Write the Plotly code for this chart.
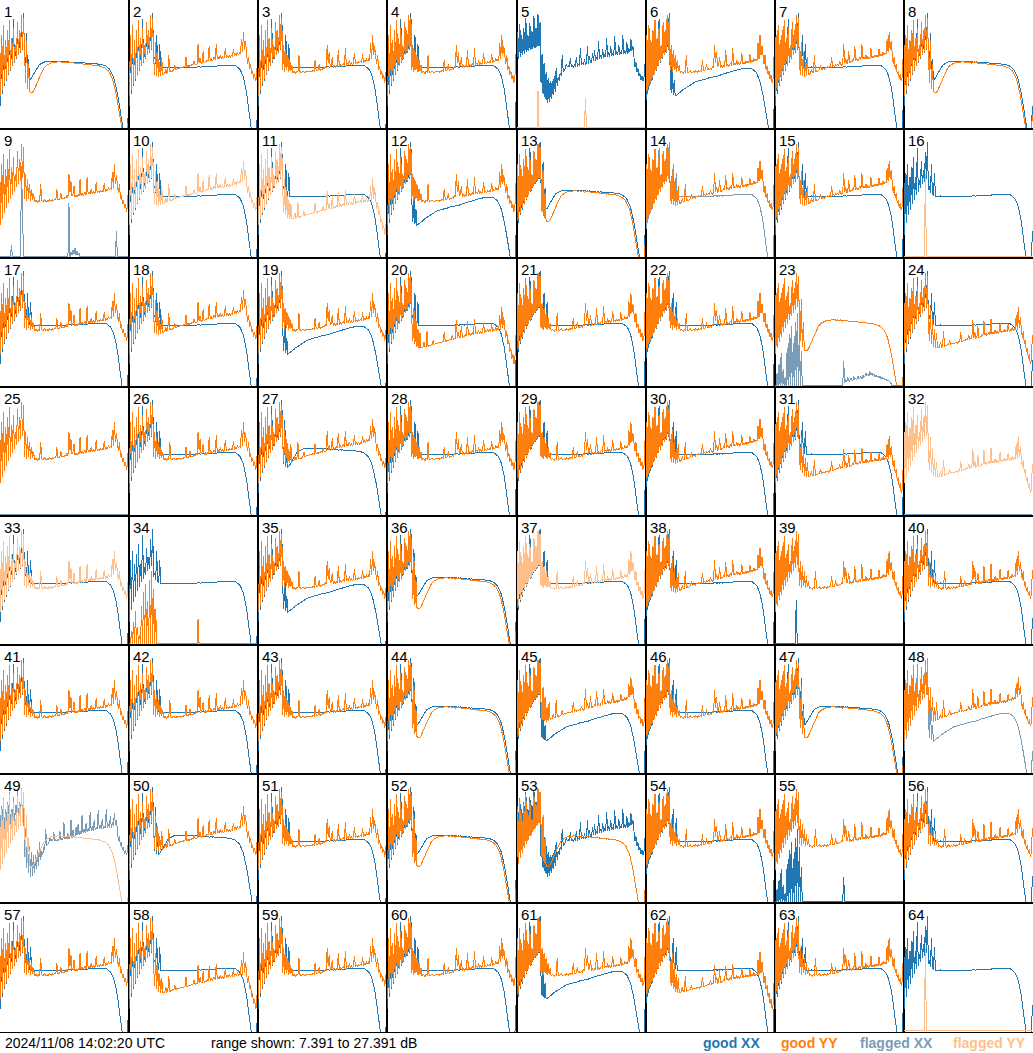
import plotly.graph_objects as go
from plotly.subplots import make_subplots

# ---------------- data ----------------
CHANNELS = list(range(128))
Y_MIN, Y_MAX = 7.391, 27.391
TIMESTAMP = "2024/11/08 14:02:20 UTC"
RANGE_TEXT = "range shown: 7.391 to 27.391 dB"
LEGEND_LABELS = ["good XX", "good YY", "flagged XX", "flagged YY"]
COLORS = {"gx": "#1f77b4", "gy": "#ff7f0e", "fx": "#7b9cb7", "fy": "#ffbf8a"}
FLOOR = 7.55

# spiky low-frequency segments (channels 0-23)
SPK_O = [12.5, 22.0, 13.4, 23.5, 14.4, 21.2, 15.1, 22.7, 15.9, 24.3, 16.5, 21.5,
         17.2, 23.1, 17.8, 20.4, 18.4, 24.0, 18.9, 22.7, 19.3, 25.1, 19.8, 24.6]
SPK_B = [11.0, 20.5, 12.8, 22.0, 14.0, 20.0, 14.9, 21.5, 15.8, 23.0, 16.4, 20.0,
         17.1, 24.4, 17.7, 19.5, 18.3, 22.5, 18.8, 21.0, 19.2, 23.8, 19.6, 25.3]

# typical YY
O1 = SPK_O + [16.6, 20.4, 16.3, 19.6, 16.5, 18.9, 16.2, 18.1, 16.4, 17.3] + \
    [16.1, 16.3, 16.2, 16.0, 16.3, 16.2, 18.9, 16.3, 16.1, 16.2, 16.4, 16.2, 16.1, 16.3,
     16.2, 16.4, 16.3, 16.2, 16.4, 16.3, 16.5, 16.4, 18.1, 16.5, 16.4, 16.6, 17.4, 16.5,
     16.7, 16.6, 16.8, 16.7, 17.1, 16.8, 20.4, 17.6, 19.3, 17.0, 17.3, 18.6, 16.9, 17.2] + \
    [16.9, 17.2, 17.0, 19.6, 17.1, 17.4, 17.1, 17.3, 17.6, 17.2, 19.9, 17.3, 17.6, 17.3,
     18.0, 17.4, 17.7, 17.4, 17.6, 19.2, 17.5, 17.8, 17.5, 17.9, 17.6, 17.9, 17.6, 19.0,
     17.7, 18.0, 17.8, 18.3, 17.9, 18.2, 18.0, 20.7, 18.3, 22.0, 18.8, 20.2] + \
    [18.3, 17.4, 18.9, 16.6, 17.2, 15.8, 16.4, 15.1, 15.8, 14.6, 15.3, 19.0]

# YY rising out of a shallow dip
O2 = SPK_O + [18.5, 15.8, 20.9, 15.6, 19.4, 15.5, 17.8, 15.6, 18.6, 15.8] + \
    [15.9, 16.0, 16.6, 16.1, 16.2, 18.8, 16.3, 16.4, 16.3, 16.5, 16.6, 17.3, 16.6, 16.7,
     16.8, 16.7, 16.9, 16.9, 17.0, 16.9, 17.1, 17.0, 18.6, 17.1, 17.2, 17.1, 17.3, 17.2,
     17.4, 17.3, 17.9, 17.4, 17.3, 17.5, 20.5, 17.6, 18.4, 17.5, 17.7, 19.4, 17.6, 17.8] + \
    [17.8, 18.1, 17.9, 20.3, 18.0, 18.3, 17.9, 18.2, 18.6, 18.1, 20.6, 18.2, 18.5, 18.2,
     18.9, 18.3, 18.6, 18.3, 18.5, 19.9, 18.4, 18.7, 18.5, 18.9, 18.5, 18.8, 18.6, 19.8,
     18.7, 19.0, 18.8, 19.3, 18.9, 19.2, 19.0, 21.3, 19.3, 22.4, 19.6, 21.0] + \
    [18.4, 17.5, 18.6, 16.7, 17.4, 16.0, 16.3, 15.2, 15.9, 14.8, 15.4, 19.3]

# low YY
O3 = SPK_O + [17.5, 14.5, 19.6, 14.0, 17.9, 13.6, 16.4, 13.4, 15.8, 13.5] + \
    [13.5, 13.6, 14.4, 13.6, 13.7, 16.0, 13.7, 13.8, 13.8, 13.9, 14.0, 14.6, 14.0, 14.1,
     14.1, 14.2, 14.2, 14.3, 14.3, 14.2, 14.4, 14.4, 15.9, 14.5, 14.5, 14.6, 14.6, 14.7,
     14.7, 14.8, 15.4, 14.8, 14.9, 14.9, 17.8, 15.0, 15.9, 15.0, 15.1, 16.8, 15.1, 15.2] + \
    [15.2, 15.5, 15.3, 17.6, 15.4, 15.7, 15.4, 15.6, 15.9, 15.5, 18.0, 15.6, 15.9, 15.6,
     16.2, 15.7, 16.0, 15.7, 15.9, 17.3, 15.8, 16.1, 15.9, 16.3, 15.9, 16.2, 16.0, 17.1,
     16.0, 16.3, 16.1, 16.6, 16.1, 16.4, 16.2, 18.6, 16.3, 19.8, 16.5, 18.2] + \
    [15.8, 15.0, 16.1, 14.0, 14.6, 12.9, 13.4, 11.8, 12.5, 10.9, 11.6, 15.5]

# smooth YY with a dip and band-edge roll-off
O4 = SPK_O + [19.5, 14.5, 21.0, 13.6, 17.5, 13.2] + \
    [13.0, 13.0, 13.1, 13.3, 13.6, 13.9, 14.3, 14.7, 15.1, 15.5, 15.9, 16.2, 16.5, 16.8,
     17.0, 17.2, 17.3, 17.4, 17.5, 17.6, 17.6, 17.7, 17.7, 17.7, 17.8, 17.8] + \
    [17.8, 17.8, 17.9, 17.8, 17.8, 17.7, 17.8, 17.7, 17.7, 17.8, 17.7, 17.6, 17.7, 17.7,
     17.6, 17.6, 17.7, 17.6, 17.6, 17.5, 17.6, 17.5, 17.6, 17.5, 17.5, 17.4, 17.5, 17.5,
     17.4, 17.4, 17.5, 17.4, 17.4, 17.3, 17.4, 17.3, 17.3, 17.4, 17.3, 17.2, 17.3, 17.2,
     17.2, 17.1, 17.1, 17.0, 17.0, 16.9, 16.8, 16.7] + \
    [16.6, 16.4, 16.2, 15.9, 15.6, 15.2, 14.7, 14.1, 13.4, 12.6, 11.7, 10.7, 9.6, 8.5,
     7.6, 7.0, 7.0, 7.0, 7.0, 7.0, 7.0, 9.5]

# typical XX
B1 = SPK_B + [18.0, 18.6, 17.4, 22.0, 17.2, 17.1, 20.5, 17.0, 17.0, 16.9] + \
    [16.9, 16.9, 17.0, 16.9, 16.9, 16.9, 17.0, 16.9, 16.9, 16.9, 16.9, 17.0,
     16.9, 16.9, 16.9, 16.9, 16.9, 17.0, 16.9, 16.9, 16.9, 16.9, 16.9, 16.9,
     17.0, 16.9, 17.0, 17.0, 16.9, 17.0, 17.0, 17.0, 17.0, 17.0, 17.1, 17.0,
     17.0, 17.0, 17.1, 17.0, 17.1, 17.1, 17.0, 17.1, 17.1, 17.1, 17.1, 17.1,
     17.2, 17.1, 17.1, 17.2, 17.1, 17.2, 17.2, 17.2, 17.2, 17.2, 17.2, 17.3,
     17.2, 17.2, 17.3, 17.2, 17.3, 17.3, 17.3, 17.2, 17.3, 17.3, 17.2, 17.2] + \
    [17.1, 17.0, 16.9, 16.7, 16.5, 16.2, 15.8, 15.3, 14.7, 13.9, 13.0, 11.9, 10.7, 9.4,
     8.1, 7.0, 7.0, 7.0, 7.0, 7.0, 7.0, 11.5]

# smooth XX with a small dip
B2 = SPK_B + [19.0, 15.4, 22.3, 15.0, 18.2, 15.0] + \
    [15.1, 15.3, 15.6, 15.9, 16.2, 16.5, 16.8, 17.0, 17.2, 17.4, 17.5, 17.6, 17.7, 17.7,
     17.8, 17.8, 17.8, 17.9, 17.9, 17.9, 17.9, 17.9, 17.9, 17.9, 17.9, 17.9] + \
    [17.9, 17.9, 17.9, 17.8, 17.9, 17.8, 17.8, 17.9, 17.8, 17.8, 17.8, 17.8, 17.8, 17.7,
     17.8, 17.7, 17.8, 17.7, 17.7, 17.8, 17.7, 17.7, 17.7, 17.6, 17.7, 17.7, 17.6, 17.7,
     17.6, 17.6, 17.6, 17.7, 17.6, 17.6, 17.6, 17.5, 17.6, 17.6, 17.5, 17.5, 17.5, 17.5,
     17.4, 17.5, 17.4, 17.4, 17.3, 17.3, 17.2, 17.1, 17.0, 16.9] + \
    [16.7, 16.5, 16.2, 15.9, 15.5, 15.0, 14.4, 13.7, 12.9, 12.0, 11.0, 9.9, 8.8, 7.7,
     7.0, 7.0, 7.0, 7.0, 7.0, 11.0]

# low XX with a deep dip
B3 = SPK_B + [16.0, 13.0, 18.5, 12.6, 15.0, 12.5] + \
    [12.6, 12.7, 12.8, 12.9, 13.1, 13.2, 13.4, 13.5, 13.7, 13.8, 13.9, 14.0, 14.1, 14.2,
     14.3, 14.4, 14.5, 14.5, 14.6, 14.7, 14.7, 14.8, 14.8, 14.9, 14.9, 15.0] + \
    [15.0, 15.1, 15.1, 15.1, 15.2, 15.2, 15.3, 15.3, 15.3, 15.4, 15.4, 15.5, 15.5, 15.5,
     15.6, 15.6, 15.7, 15.7, 15.8, 15.8, 15.9, 15.9, 16.0, 16.0, 16.1, 16.1, 16.2, 16.2,
     16.3, 16.3, 16.4, 16.4, 16.5, 16.5, 16.5, 16.6, 16.6, 16.6, 16.7, 16.7, 16.7, 16.8,
     16.8, 16.8, 16.8, 16.8, 16.8, 16.8, 16.7, 16.7, 16.6, 16.5] + \
    [16.4, 16.2, 15.9, 15.6, 15.2, 14.7, 14.1, 13.4, 12.6, 11.7, 10.7, 9.6, 8.5, 7.5,
     7.0, 7.0, 7.0, 7.0, 7.0, 11.0]

# spiky XX all across the band
B4 = [17.6, 22.4, 18.2, 23.6, 18.5, 21.9, 18.9, 23.0, 19.0, 24.6, 19.3, 22.0,
      19.5, 23.8, 19.6, 22.6, 19.8, 24.9, 19.9, 23.1, 20.1, 25.2, 20.2, 23.9] + \
    [14.5, 19.0, 12.8, 17.6, 12.0, 16.2, 11.5, 15.3, 11.6, 14.8] + \
    [12.0, 14.9, 12.6, 15.6, 13.2, 16.9, 14.0, 15.5, 14.8, 16.1, 15.6, 18.9, 16.3, 16.6,
     16.7, 17.5, 17.0, 17.2, 17.0, 18.4, 17.0, 17.2] + \
    [17.0, 17.3, 17.1, 18.6, 17.1, 17.4, 17.2, 19.9, 17.3, 17.6, 17.3, 18.2, 17.4, 17.6,
     20.3, 17.5, 18.7, 17.6, 17.8, 19.1] + \
    [17.9, 19.6, 18.0, 18.5, 18.1, 21.0, 18.2, 18.9, 18.3, 19.8, 18.4, 19.0, 18.5, 21.5,
     18.6, 19.3, 18.6, 20.2, 18.7, 19.1, 18.8, 21.8, 18.8, 19.5, 18.9, 20.4, 18.9, 19.3,
     19.0, 22.0, 19.0, 19.6, 19.1, 20.8, 19.1, 19.9, 19.3, 21.4, 19.5, 20.3] + \
    [18.2, 17.0, 17.8, 16.2, 16.8, 15.6, 16.0, 15.0, 15.6, 14.8, 15.4, 17.5]

# series sitting on the floor of the range
SPK_FLOOR = [9.5, FLOOR, 11.0, FLOOR, 12.6, FLOOR, 10.2, FLOOR, 9.0, FLOOR, 13.5, FLOOR, 15.6,
             FLOOR, 16.8, FLOOR, 14.2, FLOOR, 17.4, FLOOR, 18.8, FLOOR, 16.0, FLOOR, 13.0, FLOOR]
NOISE_23 = [8.0, 8.6, 8.2, 8.9, 8.4, 8.3, 8.8, 8.5, 8.4, 9.0, 8.6, 8.7, 8.5, 9.1, 8.7, 8.8,
            9.0, 8.6, 9.3, 8.9, 9.0, 9.6, 9.2, 9.4, 9.1, 9.8, 9.3, 9.5, 9.2, 9.4, 9.0, 9.3,
            8.9, 9.1, 8.8, 9.0, 8.7, 8.9, 8.6, 8.8, 8.5, 8.6, 8.3, 8.5, 8.2, 8.1, 7.9]
F0 = [FLOOR] * 128
F1 = [FLOOR] * 21 + [20.4] + [FLOOR] * 106
F1L = [FLOOR] * 21 + [14.4] + [FLOOR] * 106
F5 = [FLOOR] * 21 + [13.3] + [FLOOR] * 46 + [12.2] + [FLOOR] * 59
F9 = [FLOOR] * 11 + [9.4] + [FLOOR] * 9 + [21.7, 12.4] + [FLOOR] * 45 + \
     [15.9, FLOOR, 8.3, 7.9, 8.6, 8.0, 8.9, 7.8, 8.4, 7.9, 8.1] + [FLOOR] * 36 + [11.6] + [FLOOR] * 12
FS = [FLOOR, FLOOR] + SPK_FLOOR + [FLOOR] * 40 + [11.4] + [FLOOR] * 59
FS23 = [FLOOR, FLOOR] + SPK_FLOOR + [FLOOR] * 40 + [11.4] + NOISE_23 + [FLOOR] * 12

TEMPLATES = {"O1": O1, "O2": O2, "O3": O3, "O4": O4, "B1": B1, "B2": B2, "B3": B3,
             "B4": B4, "F0": F0, "F1": F1, "F1L": F1L, "F5": F5, "F9": F9, "FS": FS,
             "FS23": FS23}

# per panel: (XX series, XX flag, YY series, YY flag)   g = good, f = flagged
PANELS = [
    ("B2", "g", "O4", "g"), ("B1", "g", "O2", "g"), ("B1", "g", "O1", "g"), ("B1", "g", "O1", "g"),
    ("B4", "g", "F5", "f"), ("B3", "g", "O1", "g"), ("B1", "g", "O2", "g"), ("B2", "g", "O4", "g"),
    ("F9", "f", "O1", "g"), ("B1", "g", "O2", "f"), ("B1", "g", "O3", "f"), ("B3", "g", "O1", "g"),
    ("B2", "g", "O4", "g"), ("B1", "f", "O2", "g"), ("B1", "g", "O2", "g"), ("B1", "g", "F1", "f"),
    ("B1", "g", "O1", "g"), ("B1", "g", "O2", "g"), ("B3", "g", "O1", "g"), ("B1", "g", "O3", "g"),
    ("B1", "g", "O1", "g"), ("B1", "g", "O1", "g"), ("FS23", "f", "O4", "g"), ("B1", "g", "O3", "g"),
    ("F0", "f", "O1", "g"), ("B1", "g", "O1", "g"), ("B2", "g", "O2", "g"), ("B1", "g", "O1", "g"),
    ("B1", "g", "O1", "g"), ("B1", "g", "O2", "g"), ("B1", "g", "O3", "g"), ("F0", "f", "O3", "f"),
    ("B1", "g", "O1", "f"), ("B1", "g", "FS", "g"), ("B3", "g", "O1", "g"), ("B2", "g", "O4", "g"),
    ("B1", "g", "O1", "f"), ("B1", "g", "O2", "g"), ("F1L", "g", "O1", "g"), ("B1", "g", "O1", "g"),
    ("B1", "g", "O1", "g"), ("B1", "g", "O1", "g"), ("B1", "g", "O1", "g"), ("B2", "g", "O4", "g"),
    ("B3", "g", "O2", "g"), ("B1", "g", "O1", "g"), ("B2", "g", "O4", "g"), ("B3", "f", "O2", "g"),
    ("B4", "f", "O4", "f"), ("B2", "g", "O2", "g"), ("B1", "g", "O1", "g"), ("B2", "g", "O4", "g"),
    ("B4", "g", "O4", "g"), ("B1", "g", "O1", "g"), ("FS", "g", "O1", "g"), ("B1", "g", "O1", "g"),
    ("B1", "g", "O1", "g"), ("B1", "g", "O3", "g"), ("B1", "g", "O1", "g"), ("B1", "g", "O1", "g"),
    ("B3", "g", "O1", "g"), ("B1", "g", "O3", "g"), ("B1", "g", "O1", "g"), ("B1", "g", "F1", "f"),
]

# ---------------- figure ----------------
W, H, BOTTOM = 1033, 1053, 21
fig = make_subplots(rows=8, cols=8, horizontal_spacing=0, vertical_spacing=0)

for i, (xt, xf, yt, yf) in enumerate(PANELS):
    r, c = i // 8 + 1, i % 8 + 1
    for tname, flag, pol in ((xt, xf, "x"), (yt, yf, "y")):
        vals = TEMPLATES[tname]
        fig.add_trace(go.Scatter(x=CHANNELS[:len(vals)], y=vals, mode="lines",
                                 line=dict(color=COLORS[flag + pol], width=1),
                                 hoverinfo="skip", showlegend=False), row=r, col=c)
    k = i + 1
    suffix = "" if k == 1 else str(k)
    fig.add_annotation(text=str(k), xref=f"x{suffix} domain", yref=f"y{suffix} domain",
                       x=0, y=1, xanchor="left", yanchor="top", xshift=2, yshift=-1,
                       showarrow=False, font=dict(family="Liberation Sans", size=15, color="black"))

fig.update_xaxes(range=[-0.3, 127.6], showline=True, mirror=True, linecolor="black", linewidth=1,
                 showticklabels=False, ticks="", showgrid=False, zeroline=False, fixedrange=True)
fig.update_yaxes(range=[Y_MIN, Y_MAX], showline=True, mirror=True, linecolor="black", linewidth=1,
                 showticklabels=False, ticks="", showgrid=False, zeroline=False, fixedrange=True)

ytxt = -(1043 - (H - BOTTOM)) / (H - BOTTOM)
base_font = dict(family="Liberation Sans", size=14, color="black")
fig.add_annotation(text=TIMESTAMP, xref="paper", yref="paper", x=3 / W, y=ytxt,
                   xanchor="left", yanchor="middle", showarrow=False, font=base_font)
fig.add_annotation(text=RANGE_TEXT, xref="paper", yref="paper", x=209 / W, y=ytxt,
                   xanchor="left", yanchor="middle", showarrow=False, font=base_font)
for label, key, px in zip(LEGEND_LABELS, ["gx", "gy", "fx", "fy"], [701, 779, 858, 951]):
    fig.add_annotation(text=f"<b>{label}</b>", xref="paper", yref="paper", x=px / W, y=ytxt,
                       xanchor="left", yanchor="middle", showarrow=False,
                       font=dict(family="Liberation Sans", size=14, color=COLORS[key]))

fig.update_layout(width=W, height=H, margin=dict(l=0, r=0, t=0, b=BOTTOM),
                  paper_bgcolor="white", plot_bgcolor="white", showlegend=False)

POST = ("document.body.style.margin='0';document.body.style.overflow='hidden';"
        "document.querySelectorAll('.scatterlayer .js-line').forEach(function(p)"
        "{p.style.shapeRendering='crispEdges';});")
fig.write_html("out.html", config={"displayModeBar": False}, post_script=POST)
